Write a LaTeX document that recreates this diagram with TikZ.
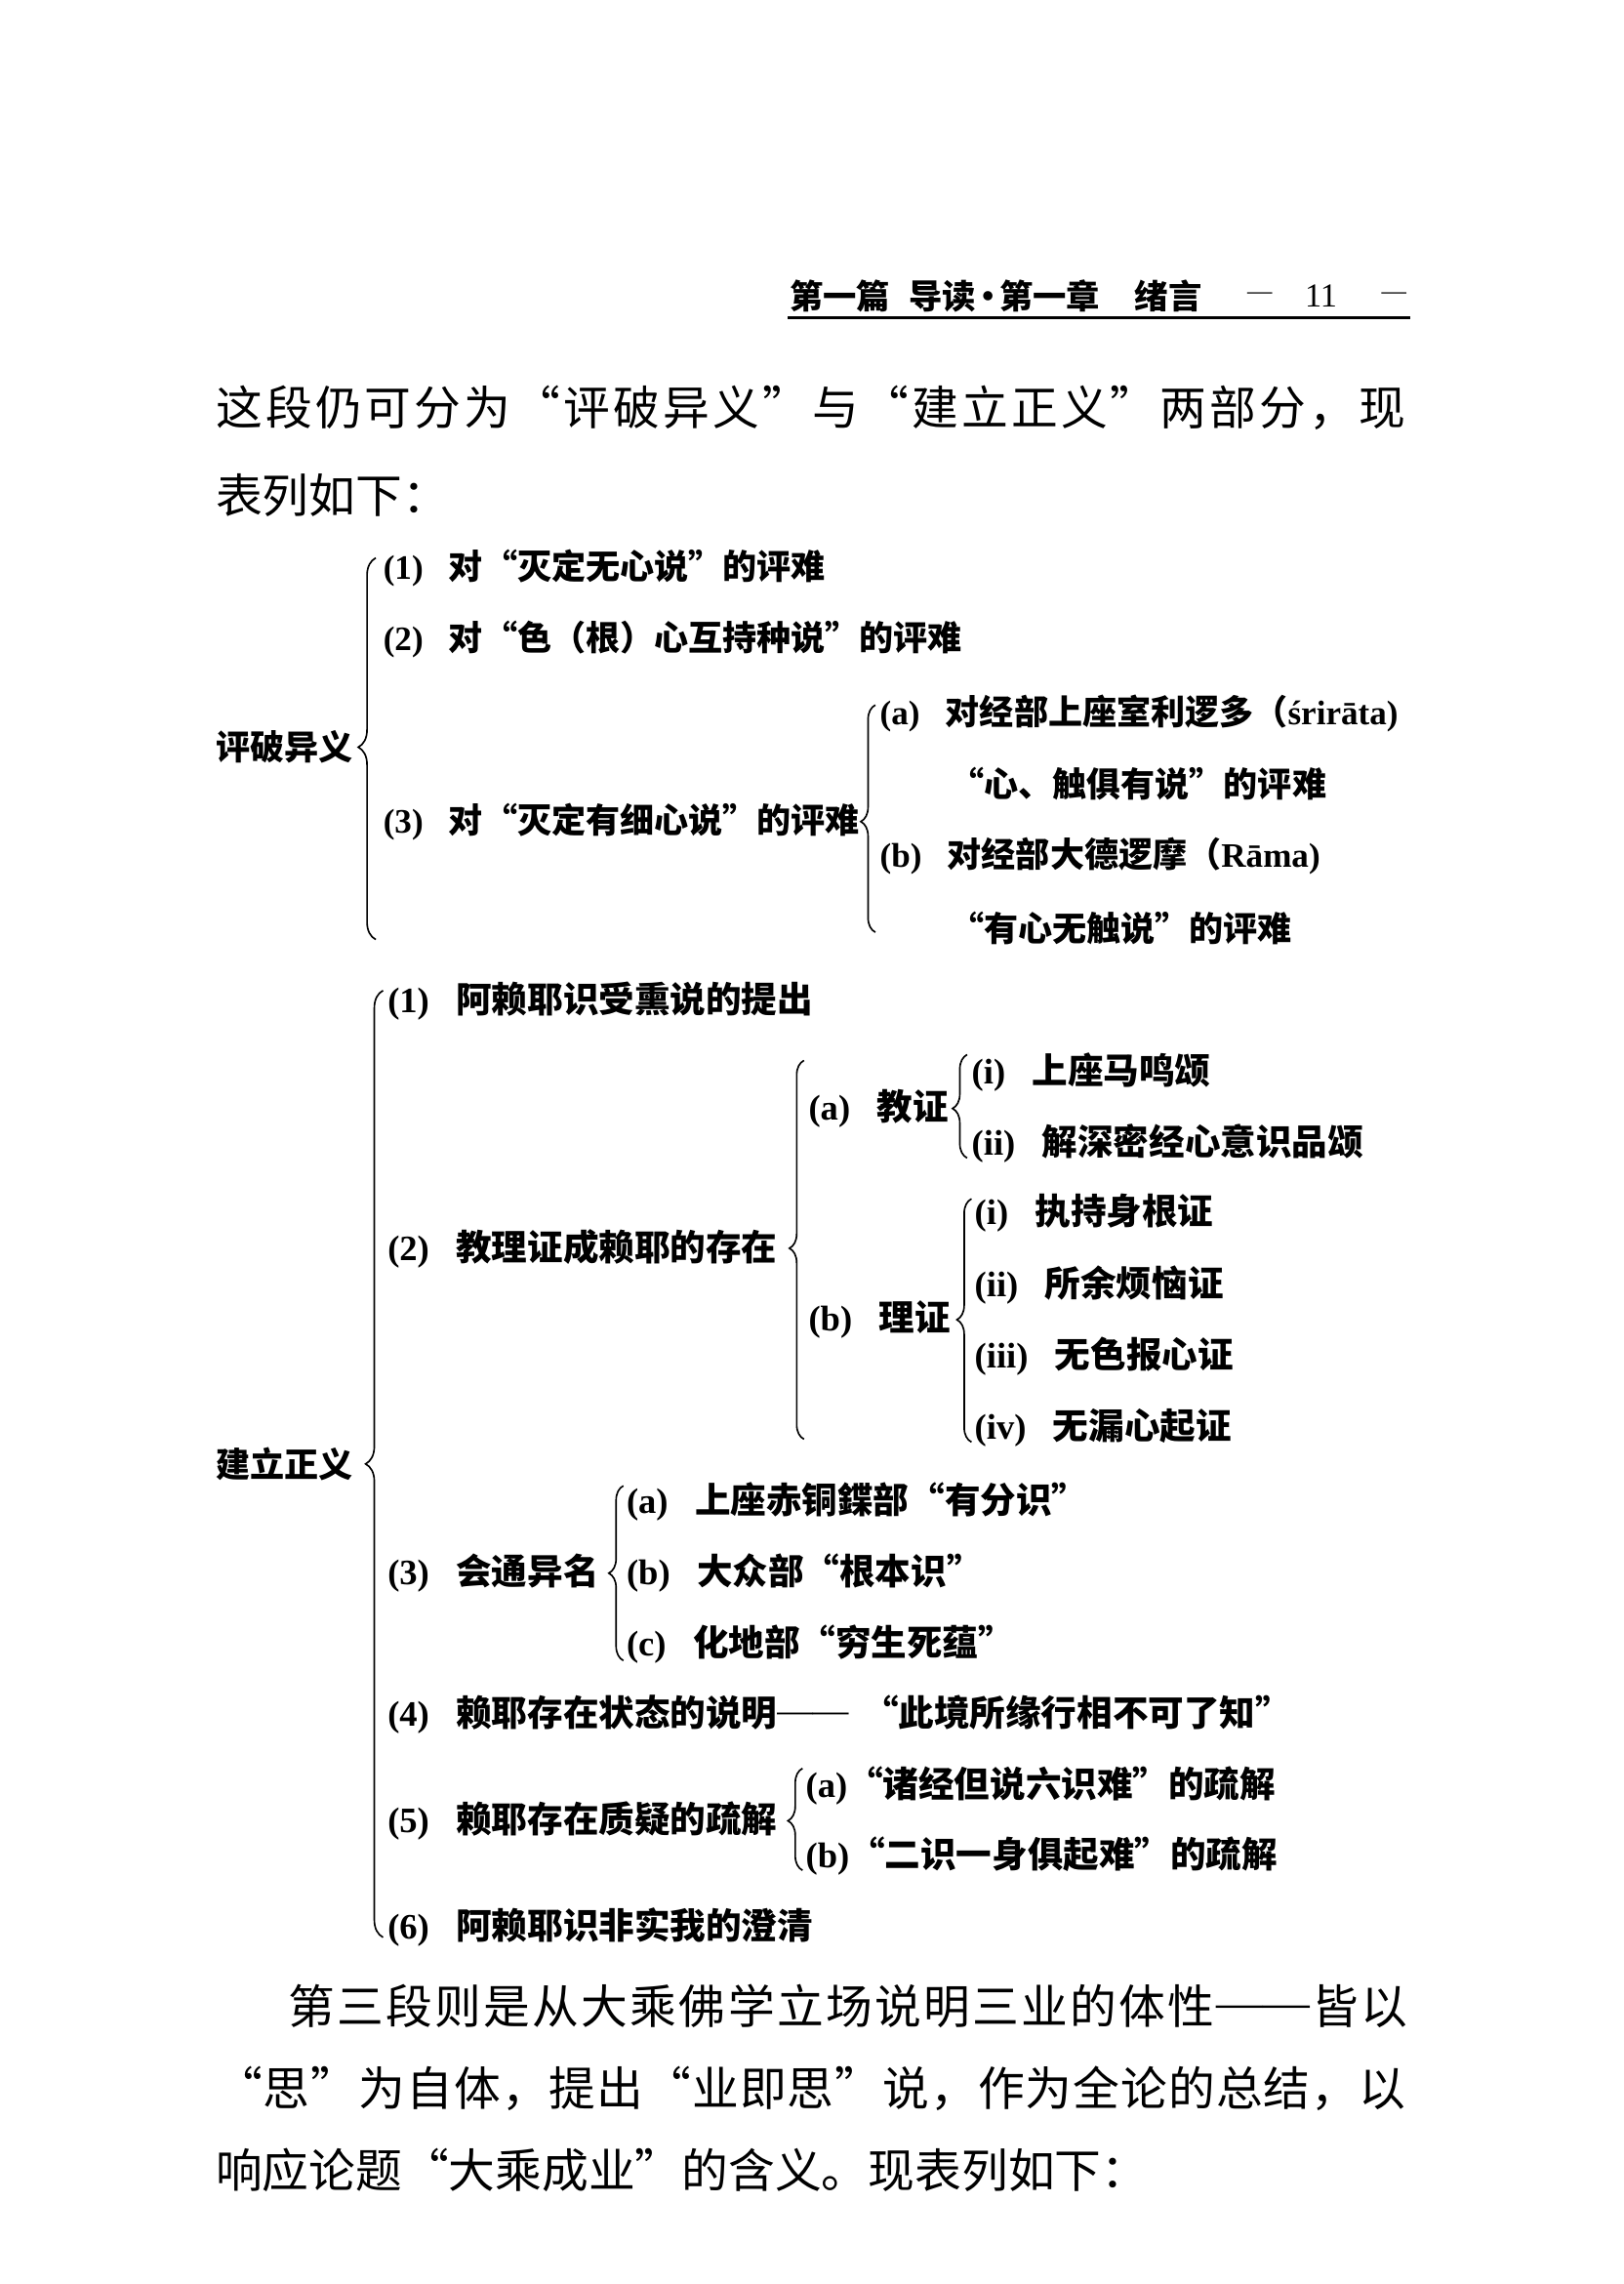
\documentclass[tikz,border=0pt]{standalone}
\usepackage{fontspec}
\setmainfont{Liberation Serif}
\newfontfamily\cjk{Noto Sans CJK SC}
\usetikzlibrary{decorations.pathreplacing}
\setlength\parindent{0pt}
\newcommand\Lq{\makebox[1em][r]{“}}
\newcommand\Rq{\makebox[1em][l]{”}}
\newcommand\Dash{{\rmfamily\mdseries\raisebox{0.12em}{——}}}
\newcommand\lab[1]{{\rmfamily(#1)}\hspace{0.75em}}
\newcommand\labq[1]{{\rmfamily(#1)}}
% spread the characters of a line evenly over a box of given width
\def\spread#1{\spreadi#1\relax}
\def\spreadi#1{\ifx#1\relax\unskip\else#1\hfil\expandafter\spreadi\fi}
\tikzset{
  ga/.style={anchor=west, inner sep=0pt, font=\cjk\bfseries\fontsize{23.5}{23.5}\selectfont},
  gb/.style={anchor=west, inner sep=0pt, font=\cjk\bfseries\fontsize{24.5}{24.5}\selectfont},
  hd/.style={anchor=west, inner sep=0pt, font=\cjk\bfseries\fontsize{23}{23}\selectfont},
  hdl/.style={inner sep=0pt, font=\rmfamily\fontsize{17}{17}\selectfont},
  para/.style={anchor=west, inner sep=0pt, font=\cjk\fontsize{32}{32}\selectfont},
  brc/.style={decorate, decoration={brace, amplitude=12pt, aspect=#1}, line width=1.1pt},
  sbrc/.style={decorate, decoration={brace, amplitude=10pt, aspect=#1}, line width=1.1pt},
}
\begin{document}
\begin{tikzpicture}[x=1pt, y=-1pt]
\useasboundingbox (0,0) rectangle (1115,1568);

% header
\node[hd] (h1) at (542,203) {第一篇};
\node[hd] (h2) at (624,203) {导读\makebox[0.7em]{·}第一章};
\node[hd] (h5) at (779,203) {绪言};
\node[hdl] (h6) at (865,203) {—};
\node[hdl, font=\rmfamily\fontsize{23}{23}\selectfont] (h7) at (907,203) {11};
\node[hdl] (h8) at (957,203) {—};
\coordinate (ulA) at (541,218);
\coordinate (ulB) at (968,218);
\draw[line width=2pt] (ulA) -- (ulB);

% paragraph 1
\node[para] (p1a) at (148,280) {\hbox to 817pt{\spread{这段仍可分为\Lq 评破异义\Rq 与\Lq 建立正义\Rq 两部分，现}}};
\node[para] (p1b) at (148,340) {表列如下：};

% group 1
\node[ga] (g1) at (148,513) {评破异义};
\coordinate (b1b) at (258,645);
\coordinate (b1t) at (258,383);
\draw[brc=0.504] (b1b) -- (b1t);
\node[ga] (i1) at (263,390) {\lab{1}对\Lq 灭定无心说\Rq 的评难};
\node[ga] (i2) at (263,439) {\lab{2}对\Lq 色（根）心互持种说\Rq 的评难};
\node[ga] (i3) at (263,564) {\lab{3}对\Lq 灭定有细心说\Rq 的评难};
\coordinate (b2b) at (601,640);
\coordinate (b2t) at (601,484);
\draw[sbrc=0.487] (b2b) -- (b2t);
\node[ga] (i3a) at (604,490) {\lab{a}对经部上座室利逻多（{\rmfamily śrirāta)}};
\node[ga] (i3a2) at (652,538) {\Lq 心、触俱有说\Rq 的评难};
\node[ga] (i3b) at (604,588) {\lab{b}对经部大德逻摩（{\rmfamily Rāma)}};
\node[ga] (i3b2) at (652,637) {\Lq 有心无触说\Rq 的评难};

% group 2
\node[ga] (g2) at (148,1005) {建立正义};
\coordinate (b3b) at (263,1330);
\coordinate (b3t) at (263,680);
\draw[brc=0.5] (b3b) -- (b3t);
\node[gb] (j1) at (266,687) {\lab{1}阿赖耶识受熏说的提出};
\node[gb] (j2) at (266,857) {\lab{2}教理证成赖耶的存在};
\coordinate (b4b) at (552,988);
\coordinate (b4t) at (552,728);
\draw[sbrc=0.504] (b4b) -- (b4t);
\node[gb] (ja) at (555,761) {\lab{a}教证};
\coordinate (b5b) at (664,795);
\coordinate (b5t) at (664,724);
\draw[sbrc=0.479] (b5b) -- (b5t);
\node[gb] (jai) at (667,736) {\lab{i}上座马鸣颂};
\node[gb] (jaii) at (667,785) {\lab{ii}解深密经心意识品颂};
\node[gb] (jb) at (555,906) {\lab{b}理证};
\coordinate (b6b) at (667,990);
\coordinate (b6t) at (667,823);
\draw[sbrc=0.503] (b6b) -- (b6t);
\node[gb] (jbi) at (669,833) {\lab{i}执持身根证};
\node[gb] (jbii) at (669,882) {\lab{ii}所余烦恼证};
\node[gb] (jbiii) at (669,931) {\lab{iii}无色报心证};
\node[gb] (jbiv) at (669,980) {\lab{iv}无漏心起证};
\node[gb] (j3) at (266,1080) {\lab{3}会通异名};
\coordinate (b7b) at (428,1140);
\coordinate (b7t) at (428,1020);
\draw[sbrc=0.5] (b7b) -- (b7t);
\node[gb] (j3a) at (430,1031) {\lab{a}上座赤铜鍱部\Lq 有分识\Rq};
\node[gb] (j3b) at (430,1080) {\lab{b}大众部\Lq 根本识\Rq};
\node[gb] (j3c) at (430,1129) {\lab{c}化地部\Lq 穷生死蕴\Rq};
\node[gb] (j4) at (266,1177) {\lab{4}赖耶存在状态的说明\Dash\hspace{0.4em}\Lq 此境所缘行相不可了知\Rq};
\node[gb] (j5) at (266,1250) {\lab{5}赖耶存在质疑的疏解};
\coordinate (b8b) at (551,1284);
\coordinate (b8t) at (551,1214);
\draw[sbrc=0.486] (b8b) -- (b8t);
\node[gb] (j5a) at (553,1226) {\labq{a}\Lq 诸经但说六识难\Rq 的疏解};
\node[gb] (j5b) at (553,1274) {\labq{b}\Lq 二识一身俱起难\Rq 的疏解};
\node[gb] (j6) at (266,1323) {\lab{6}阿赖耶识非实我的澄清};

% paragraph 2
\node[para] (p2a) at (198,1377) {\hbox to 768pt{\spread{第三段则是从大乘佛学立场说明三业的体性\Dash 皆以}}};
\node[para] (p2b) at (148,1434) {\hbox to 817pt{\spread{\Lq 思\Rq 为自体，提出\Lq 业即思\Rq 说，作为全论的总结，以}}};
\node[para] (p2c) at (148,1490) {响应论题\Lq 大乘成业\Rq 的含义。现表列如下：};
\end{tikzpicture}
\end{document}
